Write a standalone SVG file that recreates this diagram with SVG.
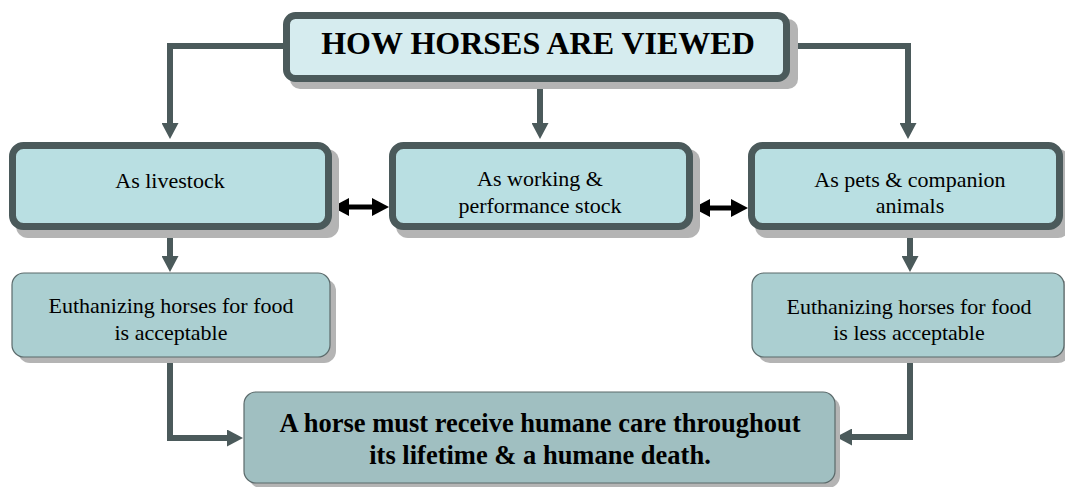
<svg xmlns="http://www.w3.org/2000/svg" width="1065" height="487" viewBox="0 0 1065 487">
  <style>
    .shadow { fill: #b4b4b4; }
    .thick { stroke: #4b5a5b; stroke-width: 7; }
    .thin { stroke: #5b6a6b; stroke-width: 1.2; }
    .title { font-family: "Liberation Serif", "Times New Roman", serif; font-weight: bold; font-size: 32px; fill: #000; text-anchor: middle; }
    .lbl { font-family: "Liberation Serif", "Times New Roman", serif; font-size: 22px; fill: #000; text-anchor: middle; }
    .bold { font-family: "Liberation Serif", "Times New Roman", serif; font-weight: bold; font-size: 26.5px; fill: #000; text-anchor: middle; }
    .conn { fill: none; stroke: #4b5a5b; stroke-width: 6; stroke-linejoin: miter; }
    .dbl { fill: none; stroke: #000; stroke-width: 5; }
  </style>
  <defs>
    <marker id="arrowDark" markerUnits="userSpaceOnUse" viewBox="0 0 16 17" refX="6" refY="8.5" markerWidth="16" markerHeight="17" orient="auto">
      <path d="M0,0 L16,8.5 L0,17 z" fill="#4b5a5b"/>
    </marker>
    <marker id="arrowBlack" markerUnits="userSpaceOnUse" viewBox="0 0 17 18" refX="5" refY="9" markerWidth="17" markerHeight="18" orient="auto-start-reverse">
      <path d="M0,0 L17,9 L0,18 z" fill="#000"/>
    </marker>
  </defs>

  <!-- connectors -->
  <g id="connectors">
    <path class="conn" d="M286,46 H170 V129" marker-end="url(#arrowDark)"/>
    <path class="conn" d="M540,82 V129" marker-end="url(#arrowDark)"/>
    <path class="conn" d="M787,46 H908 V129" marker-end="url(#arrowDark)"/>
    <path class="conn" d="M170,230 V262" marker-end="url(#arrowDark)"/>
    <path class="conn" d="M910,230 V262" marker-end="url(#arrowDark)"/>
    <path class="conn" d="M170,357 V438 H233" marker-end="url(#arrowDark)"/>
    <path class="conn" d="M910,357 V437 H846" marker-end="url(#arrowDark)"/>
    <path class="dbl" d="M344,207 H377" marker-start="url(#arrowBlack)" marker-end="url(#arrowBlack)"/>
    <path class="dbl" d="M705,208 H736" marker-start="url(#arrowBlack)" marker-end="url(#arrowBlack)"/>
  </g>

  <!-- title -->
  <g id="title">
    <rect class="shadow" x="290" y="19" width="508" height="70" rx="10"/>
    <rect class="thick" x="286.5" y="15.5" width="500" height="63" rx="9" fill="#d6ecef"/>
    <text class="title" x="538" y="54">HOW HORSES ARE VIEWED</text>
  </g>

  <!-- middle row -->
  <g id="livestock">
    <rect class="shadow" x="16" y="149" width="323" height="89" rx="12"/>
    <rect class="thick" x="12.5" y="145.5" width="316" height="81" rx="11" fill="#b9dfe2"/>
    <text class="lbl" x="170" y="188">As livestock</text>
  </g>
  <g id="working">
    <rect class="shadow" x="396" y="149" width="304" height="89" rx="12"/>
    <rect class="thick" x="392.5" y="145.5" width="297" height="81" rx="11" fill="#b9dfe2"/>
    <text class="lbl" x="540" y="186">As working &amp;</text>
    <text class="lbl" x="540" y="213">performance stock</text>
  </g>
  <g id="pets">
    <rect class="shadow" x="755" y="149" width="315" height="89" rx="12"/>
    <rect class="thick" x="751.5" y="145.5" width="308" height="81" rx="11" fill="#b9dfe2"/>
    <text class="lbl" x="910" y="187">As pets &amp; companion</text>
    <text class="lbl" x="910" y="213">animals</text>
  </g>

  <!-- lower row -->
  <g id="acceptable">
    <rect class="shadow" x="18" y="279" width="318" height="84" rx="12"/>
    <rect class="thin" x="12" y="273" width="318" height="84" rx="12" fill="#abcfd1"/>
    <text class="lbl" x="171" y="313">Euthanizing horses for food</text>
    <text class="lbl" x="171" y="340">is acceptable</text>
  </g>
  <g id="less-acceptable">
    <rect class="shadow" x="758" y="279" width="312" height="84" rx="12"/>
    <rect class="thin" x="752" y="273" width="312" height="84" rx="12" fill="#abcfd1"/>
    <text class="lbl" x="909" y="314">Euthanizing horses for food</text>
    <text class="lbl" x="909" y="340">is less acceptable</text>
  </g>

  <!-- conclusion -->
  <g id="humane">
    <rect class="shadow" x="249" y="397" width="591" height="91" rx="12"/>
    <rect class="thin" x="244" y="392" width="591" height="91" rx="12" fill="#a0bfc1"/>
    <text class="bold" x="540" y="432">A horse must receive humane care throughout</text>
    <text class="bold" x="540" y="464">its lifetime &amp; a humane death.</text>
  </g>
</svg>
